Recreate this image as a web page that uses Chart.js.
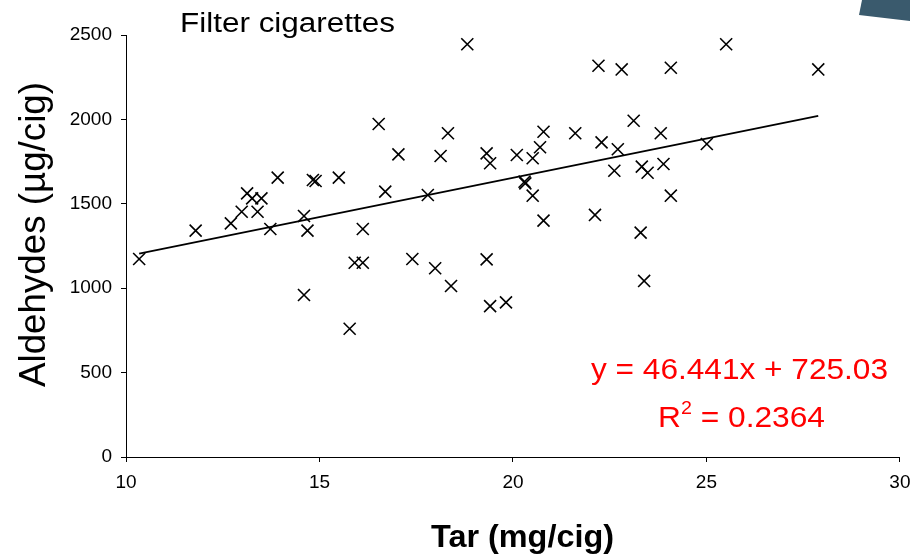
<!DOCTYPE html>
<html lang="en">

<head>
    <meta charset="UTF-8">
    <title>Filter cigarettes - Aldehydes vs Tar</title>
    <script src="https://cdn.jsdelivr.net/npm/chart.js"></script>
    <style>
        body {
            margin: 0;
            background: #fff;
        }

        #chart {
            display: block;
        }
    </style>
</head>

<body>
    <canvas id="chart" width="910" height="555"></canvas>

    <script type="text/javascript">
        // values
        const tar = [10.34, 11.80, 12.71, 12.99, 13.13, 13.26, 13.40, 13.50, 13.73, 13.92,
            14.60, 14.69, 14.60, 14.83, 14.90, 15.50, 16.12, 15.91, 16.12, 15.78,
            16.53, 17.04, 16.70, 17.40, 18.82, 18.13, 18.32, 17.80, 19.32, 19.41,
            20.10, 20.32, 20.30, 20.51, 20.51, 20.70, 20.79, 21.61, 22.21, 22.29,
            22.62, 22.71, 22.81, 23.12, 23.33, 23.48, 23.82, 23.89, 24.08, 24.08,
            20.79, 22.12, 17.99, 18.40, 19.32, 19.41, 19.82, 23.30, 23.39, 25.51,
            27.89, 25.01];
        const aldehydes = [1173, 1341, 1384, 1453, 1562, 1532, 1453, 1532, 1351, 1655,
            1428, 1341, 960, 1641, 1635, 1655, 1351, 1151, 1151, 760,
            1973, 1793, 1572, 1173, 2445, 1783, 1918, 1552, 1799, 1740,
            1789, 1621, 1631, 1548, 1770, 1835, 1927, 1918, 2318, 1864,
            1696, 1823, 2296, 1992, 1720, 1684, 1918, 1736, 2306, 1548,
            1400, 1434, 1118, 1013, 1171, 894, 916, 1329, 1043, 2445,
            2296, 1854];
        const trendSlope = 46.441;
        const trendIntercept = 725.03;
        const rSquared = '0.2364';
        const xTicks = [10, 15, 20, 25, 30];
        const yTicks = [0, 500, 1000, 1500, 2000, 2500];

        const points = tar.map((x, i) => ({ x: x, y: aldehydes[i] }));
        const xMin = Math.min(...tar);
        const xMax = Math.max(...tar);
        const trend = [xMin, xMax].map(x => ({ x: x, y: trendSlope * x + trendIntercept }));

        const FONT = '"Liberation Sans", Arial, sans-serif';

        // draw text squeezed/stretched to a given width
        function fitText(ctx, text, x, y, width) {
            const w = ctx.measureText(text).width;
            ctx.save();
            ctx.translate(x, y);
            ctx.scale(width / w, 1);
            ctx.fillText(text, 0, 0);
            ctx.restore();
        }

        const decorations = {
            id: 'decorations',
            afterDraw(chart) {
                const ctx = chart.ctx;
                ctx.save();
                ctx.textAlign = 'left';
                ctx.textBaseline = 'alphabetic';

                // corner of the slide graphic
                ctx.fillStyle = '#3a5a6d';
                ctx.beginPath();
                ctx.moveTo(862, 0);
                ctx.lineTo(859, 15);
                ctx.lineTo(910, 21);
                ctx.lineTo(910, 0);
                ctx.closePath();
                ctx.fill();

                ctx.fillStyle = '#000';
                ctx.font = '27px ' + FONT;
                fitText(ctx, 'Filter cigarettes', 180, 32, 215);

                ctx.font = 'bold 32px ' + FONT;
                fitText(ctx, 'Tar (mg/cig)', 431, 547, 183);

                // y axis title
                ctx.font = '36px ' + FONT;
                ctx.save();
                ctx.translate(45, 387);
                ctx.rotate(-Math.PI / 2);
                fitText(ctx, 'Aldehydes (\u00b5g/cig)', 0, 0, 305);
                ctx.restore();

                // trendline equation
                ctx.fillStyle = '#ff0000';
                ctx.font = '29px ' + FONT;
                const eq = 'y = ' + trendSlope + 'x + ' + trendIntercept.toFixed(2);
                fitText(ctx, eq, 591, 379, 297);

                ctx.font = '29px ' + FONT;
                const wR = ctx.measureText('R').width;
                const wRest = ctx.measureText(' = ' + rSquared).width;
                ctx.font = '18px ' + FONT;
                const w2 = ctx.measureText('2').width;
                const k = 167 / (wR + w2 + wRest);
                ctx.save();
                ctx.translate(658, 427);
                ctx.scale(k, 1);
                ctx.font = '29px ' + FONT;
                ctx.fillText('R', 0, 0);
                ctx.font = '18px ' + FONT;
                ctx.fillText('2', wR, -13);
                ctx.font = '29px ' + FONT;
                ctx.fillText(' = ' + rSquared, wR + w2, 0);
                ctx.restore();

                ctx.restore();
            }
        };

        const ctx = document.getElementById('chart').getContext('2d');
        const chart = new Chart(ctx, {
            type: 'scatter',
            data: {
                datasets: [
                    {
                        label: 'Filter cigarettes',
                        data: points,
                        pointStyle: 'crossRot',
                        pointRadius: 8.5,
                        pointBorderWidth: 1.6,
                        borderColor: '#000',
                        backgroundColor: '#000'
                    },
                    {
                        label: 'Linear trend',
                        type: 'line',
                        data: trend,
                        showLine: true,
                        pointRadius: 0,
                        borderColor: '#000',
                        borderWidth: 1.8,
                        fill: false
                    }
                ]
            },
            options: {
                responsive: false,
                animation: false,
                layout: {
                    padding: { top: 35, right: 9, left: 0, bottom: 0 }
                },
                plugins: {
                    legend: { display: false },
                    tooltip: { enabled: false }
                },
                scales: {
                    x: {
                        type: 'linear',
                        min: 10,
                        max: 30,
                        afterBuildTicks: axis => { axis.ticks = xTicks.map(v => ({ value: v })); },
                        afterFit: axis => {
                            axis.height = 98;
                            axis.paddingLeft = 0;
                            axis.paddingRight = 0;
                        },
                        grid: {
                            drawOnChartArea: false,
                            drawTicks: true,
                            tickLength: 5,
                            color: '#000'
                        },
                        border: { display: true, color: '#000', width: 1 },
                        ticks: {
                            autoSkip: false,
                            maxRotation: 0,
                            padding: 9,
                            color: '#000',
                            font: { family: FONT, size: 19 },
                            callback: v => String(v)
                        }
                    },
                    y: {
                        type: 'linear',
                        min: 0,
                        max: 2500,
                        afterBuildTicks: axis => { axis.ticks = yTicks.map(v => ({ value: v })); },
                        afterFit: axis => {
                            axis.width = 126;
                            axis.paddingTop = 0;
                            axis.paddingBottom = 0;
                        },
                        grid: {
                            drawOnChartArea: false,
                            drawTicks: true,
                            tickLength: 5,
                            color: '#000'
                        },
                        border: { display: true, color: '#000', width: 1 },
                        ticks: {
                            autoSkip: false,
                            padding: 9,
                            color: '#000',
                            font: { family: FONT, size: 19 },
                            callback: v => String(v)
                        }
                    }
                }
            },
            plugins: [decorations]
        });
    </script>

</body>

</html>
